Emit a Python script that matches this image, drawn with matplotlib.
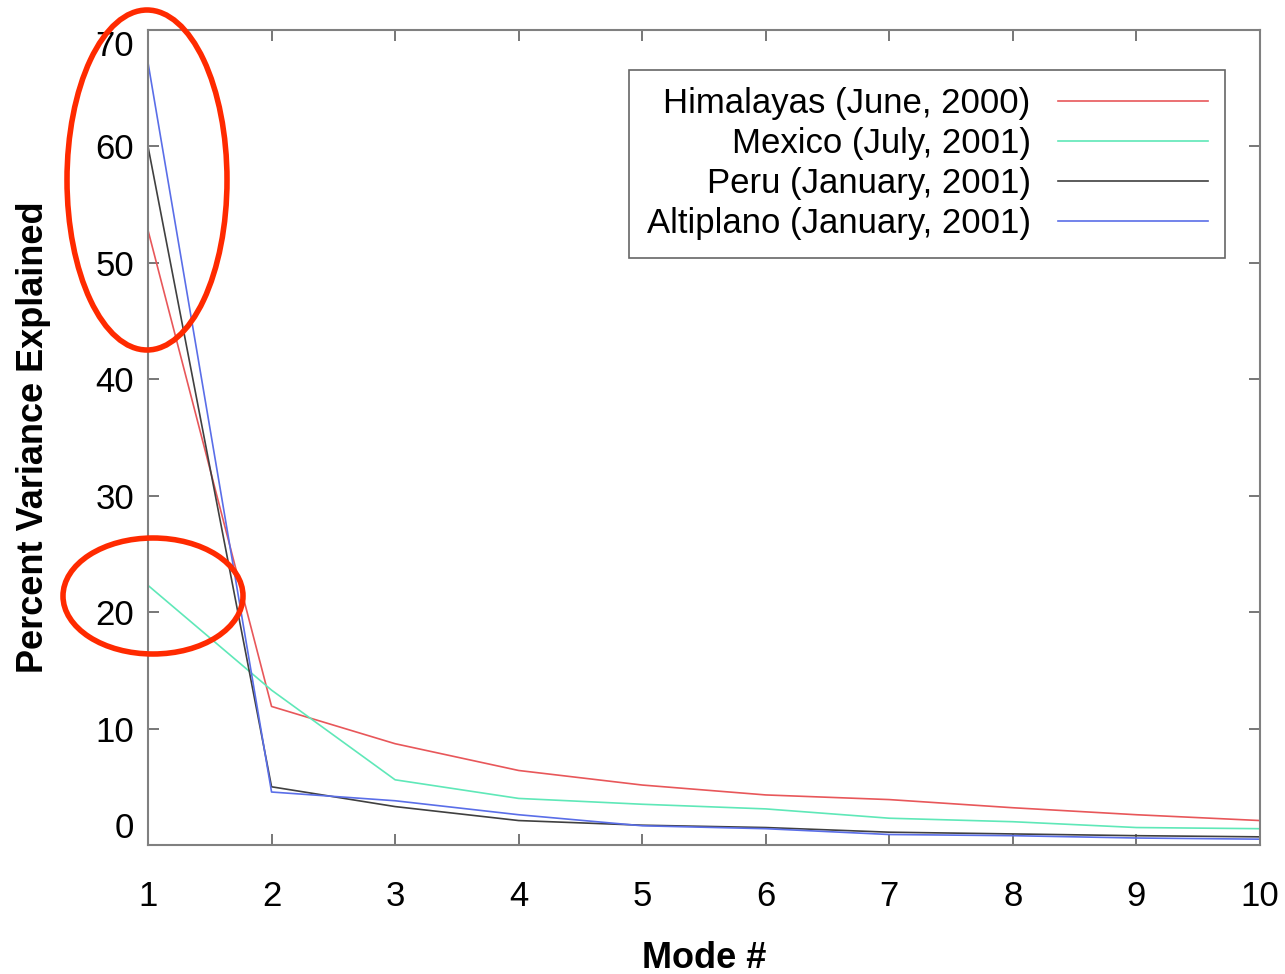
import numpy as np
import matplotlib.pyplot as plt
from matplotlib.patches import Ellipse

plt.rcParams['font.family'] = ['Liberation Sans', 'DejaVu Sans']

modes = [1, 2, 3, 4, 5, 6, 7, 8, 9, 10]
himalayas = [52.8, 11.9, 8.7, 6.4, 5.15, 4.3, 3.9, 3.2, 2.6, 2.1]
mexico = [22.3, 13.3, 5.6, 4.0, 3.5, 3.1, 2.3, 2.0, 1.5, 1.4]
peru = [60.0, 5.0, 3.3, 2.1, 1.7, 1.5, 1.1, 0.95, 0.8, 0.7]
altiplano = [67.2, 4.55, 3.8, 2.6, 1.65, 1.4, 0.9, 0.8, 0.6, 0.5]

labels = ["Himalayas (June, 2000)", "Mexico (July, 2001)",
          "Peru (January, 2001)", "Altiplano (January, 2001)"]
colors = ["#e8575a", "#5fe8b8", "#404040", "#5a6ee8"]

fig = plt.figure(figsize=(12.85, 9.74), dpi=100)
ax = fig.add_axes([148 / 1285, 129 / 974, 1112 / 1285, 815 / 974])

for vals, lab, c in zip([himalayas, mexico, peru, altiplano], labels, colors):
    ax.plot(modes, vals, color=c, lw=1.2, label=lab)

ax.set_xlim(1, 10)
ax.set_ylim(0, 70)
ax.set_xticks(modes)
ax.set_yticks(np.arange(0, 71, 10))

for s in ax.spines.values():
    s.set_color("#808080")
    s.set_linewidth(1.5)
ax.tick_params(direction="in", length=8, width=1.2, color="#606060",
               top=True, right=True, labelsize=25)
ax.tick_params(axis="x", pad=25)
ax.tick_params(axis="y", pad=10)

fig.canvas.draw()
ylabs = ax.get_yticklabels()
ylabs[0].set_va("bottom")
ylabs[-1].set_va("top")

ax.set_xlabel("Mode #", fontsize=26, fontweight="bold", labelpad=20)
ax.set_ylabel("Percent Variance Explained", fontsize=26, fontweight="bold", labelpad=32)

leg = ax.legend(loc="upper right", bbox_to_anchor=(1077 / 1112, 775 / 815),
                borderaxespad=0, markerfirst=False,
                fontsize=25, handlelength=4.3, handletextpad=0.8, labelspacing=0.2,
                fancybox=False, frameon=True, borderpad=0.5)
leg.get_frame().set_edgecolor("#404040")
leg.get_frame().set_linewidth(1.2)

# red annotation ellipses (pixel positions on the figure)
def px(x, y):
    return x / 1285, 1 - y / 974

e1 = Ellipse(px(147, 180), 160 / 1285, 340 / 974, transform=fig.transFigure,
             fill=False, edgecolor="#ff2a00", lw=4, clip_on=False)
e2 = Ellipse(px(153, 596), 180 / 1285, 116 / 974, transform=fig.transFigure,
             fill=False, edgecolor="#ff2a00", lw=4, clip_on=False)
fig.add_artist(e1)
fig.add_artist(e2)

fig.savefig("out.png", dpi=100)
